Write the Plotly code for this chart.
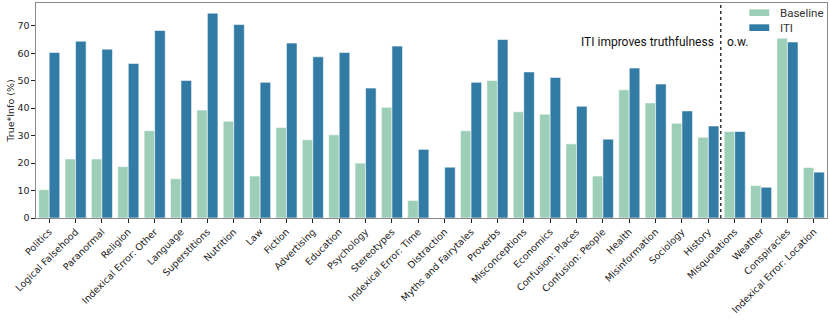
import plotly.graph_objects as go

categories = ["Politics", "Logical Falsehood", "Paranormal", "Religion", "Indexical Error: Other",
              "Language", "Superstitions", "Nutrition", "Law", "Fiction", "Advertising", "Education",
              "Psychology", "Stereotypes", "Indexical Error: Time", "Distraction", "Myths and Fairytales",
              "Proverbs", "Misconceptions", "Economics", "Confusion: Places", "Confusion: People",
              "Health", "Misinformation", "Sociology", "History", "Misquotations", "Weather",
              "Conspiracies", "Indexical Error: Location"]
baseline = [10.3, 21.5, 21.5, 18.7, 31.8, 14.3, 39.3, 35.2, 15.3, 33.0, 28.5, 30.3, 20.0, 40.3, 6.4,
            0.0, 31.8, 50.1, 38.7, 37.8, 27.0, 15.3, 46.7, 41.9, 34.5, 29.4, 31.5, 11.8, 65.5, 18.4]
iti = [60.3, 64.4, 61.5, 56.3, 68.3, 50.1, 74.6, 70.5, 49.4, 63.7, 58.7, 60.3, 47.3, 62.6, 25.0,
       18.5, 49.4, 65.0, 53.2, 51.2, 40.7, 28.7, 54.6, 48.8, 39.0, 33.5, 31.5, 11.2, 64.1, 16.7]
yticks = [0, 10, 20, 30, 40, 50, 60, 70]
series_names = ["Baseline", "ITI"]

GREEN = "#9dcfb8"
BLUE = "#317ba5"
GRAY = "#888888"
TXT = "#222222"

fig = go.Figure()
for name, vals, col in [(series_names[0], baseline, GREEN), (series_names[1], iti, BLUE)]:
    fig.add_trace(go.Bar(x=categories, y=vals, name=name, marker_color=col,
                         marker_line_color="rgba(255,255,255,0.7)", marker_line_width=0.8,
                         showlegend=False))

# split line between categories where ITI improves and the rest
split = 25.47
fig.add_shape(type="line", xref="x", yref="paper", x0=split, x1=split, y0=0, y1=1,
              line=dict(color="#333333", width=1.5, dash="dot"))
fig.add_annotation(x=split - 0.18, y=64.1, xref="x", yref="y", text="ITI improves truthfulness",
                   showarrow=False, xanchor="right", yanchor="middle",
                   font=dict(family="Roboto", size=12, color="#111111"))
fig.add_annotation(x=split + 0.18, y=64.1, xref="x", yref="y", text="o.w.",
                   showarrow=False, xanchor="left", yanchor="middle",
                   font=dict(family="Roboto", size=12, color="#111111"))

# legend (drawn manually for compact matplotlib-like spacing)
leg_rows = [(0.9707, 0.9395, 0.9535), (0.9009, 0.8698, 0.886)]
for (y1, y0, yt), name, col in zip(leg_rows, series_names, [GREEN, BLUE]):
    fig.add_shape(type="rect", xref="paper", yref="paper", x0=0.9018, x1=0.927, y0=y0, y1=y1,
                  fillcolor=col, line=dict(width=0))
    fig.add_annotation(xref="paper", yref="paper", x=0.9385, y=yt, text=name, showarrow=False,
                       xanchor="left", yanchor="middle",
                       font=dict(family="Roboto", size=11.5, color="#333333"))

fig.update_layout(
    width=830, height=321,
    margin=dict(l=36, r=3, t=3, b=103),
    paper_bgcolor="white", plot_bgcolor="white",
    barmode="group", bargap=0.2, bargroupgap=0,
    font=dict(family="DejaVu Sans", size=9.5, color=TXT),
    showlegend=False,
)
fig.update_xaxes(tickangle=-45, showline=True, mirror=True, linecolor=GRAY, linewidth=1.2,
                 ticks="outside", ticklen=3.5, tickcolor=TXT, tickwidth=1,
                 tickfont=dict(family="DejaVu Sans", size=9.5, color=TXT),
                 range=[-0.5, len(categories) - 0.5], automargin=False)
fig.update_yaxes(range=[0, 78.3], tickvals=yticks, showline=True, mirror=True, linecolor=GRAY,
                 linewidth=1.2, ticks="outside", ticklen=3.5, tickcolor=TXT, showgrid=False,
                 zeroline=False, tickfont=dict(family="DejaVu Sans", size=9.5, color=TXT),
                 automargin=False,
                 title=dict(text="True*Info (%)", standoff=1,
                            font=dict(family="DejaVu Sans", size=9.5, color=TXT)))

fig.write_html("out.html", config={"displayModeBar": False},
               post_script="document.body.style.margin='0px';document.body.style.overflow='hidden';")
